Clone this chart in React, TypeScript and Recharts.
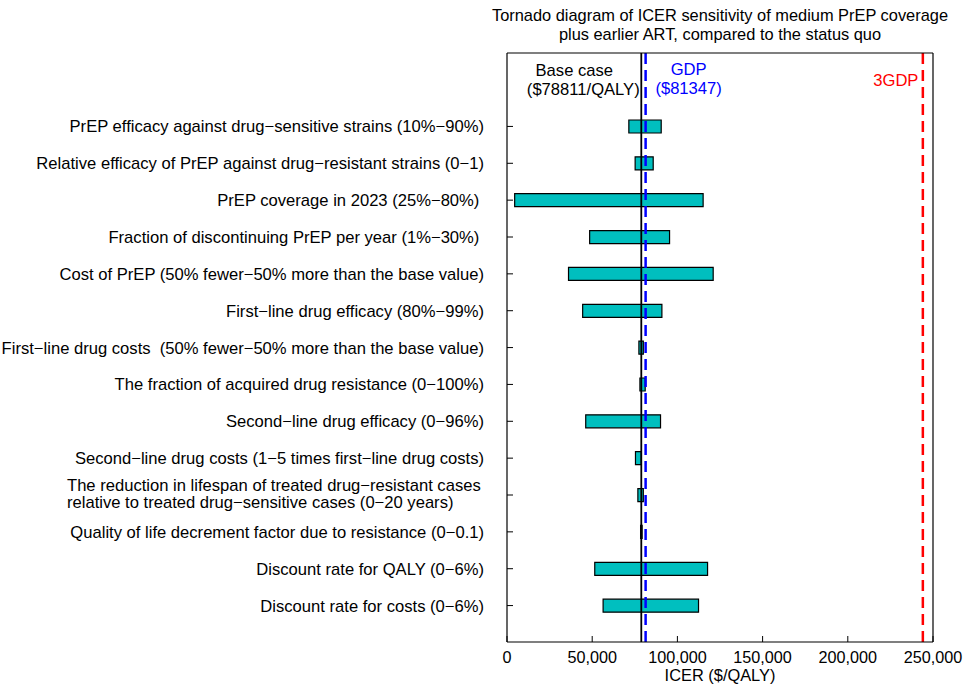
import React from "react";
import { BarChart, Bar, XAxis, YAxis, ReferenceLine } from "recharts";

const labels = [
  "PrEP efficacy against drug−sensitive strains (10%−90%)",
  "Relative efficacy of PrEP against drug−resistant strains (0−1)",
  "PrEP coverage in 2023 (25%−80%) ",
  "Fraction of discontinuing PrEP per year (1%−30%) ",
  "Cost of PrEP (50% fewer−50% more than the base value)",
  "First−line drug efficacy (80%−99%)",
  "First−line drug costs  (50% fewer−50% more than the base value)",
  "The fraction of acquired drug resistance (0−100%)",
  "Second−line drug efficacy (0−96%)",
  "Second−line drug costs (1−5 times first−line drug costs)",
  "The reduction in lifespan of treated drug−resistant cases\nrelative to treated drug−sensitive cases (0−20 years)",
  "Quality of life decrement factor due to resistance (0−0.1)",
  "Discount rate for QALY (0−6%)",
  "Discount rate for costs (0−6%)",
];

const lows = [71500, 75200, 4500, 48500, 36100, 44400, 77400, 78000, 46200, 75400, 76800, 78400, 51500, 56400];
const highs = [90500, 85800, 115100, 95400, 121000, 90900, 80000, 81100, 90100, 78800, 80000, 79300, 117700, 112400];

const xTicks = [0, 50000, 100000, 150000, 200000, 250000];

const baseCase = 78811;
const gdp = 81347;
const gdp3 = 244041;

const data = labels.map((name, i) => ({ name, range: [lows[i], highs[i]] }));

const FONT = "'Liberation Sans', Arial, Helvetica, sans-serif";
const LABEL_SIZE = 16.6;

const LeftTick = ({ x, y, payload }: any) => {
  const lines = String(payload.value).split("\n");
  if (lines.length > 1) {
    return (
      <g>
        <line x1={x + 23} x2={x + 29} y1={y} y2={y} stroke="#000" />
        <text x={x - 417} y={y} fontSize={LABEL_SIZE} fontFamily={FONT} fill="#000" textAnchor="start">
          {lines.map((l, i) => (
            <tspan key={i} x={x - 417} dy={i === 0 ? "-0.22em" : "1.03em"}>
              {l}
            </tspan>
          ))}
        </text>
      </g>
    );
  }
  return (
    <g>
      <line x1={x + 23} x2={x + 29} y1={y} y2={y} stroke="#000" />
      <text x={x} y={y} dy="0.36em" fontSize={LABEL_SIZE} fontFamily={FONT} fill="#000" textAnchor="end" style={{ whiteSpace: "pre" }}>
        {lines[0]}
      </text>
    </g>
  );
};

const BottomTick = ({ x, y, payload }: any) => (
  <g>
    <line x1={x} x2={x} y1={y - 9} y2={y - 15} stroke="#000" />
    <text x={x} y={y} dy="0.71em" fontSize={16.2} fontFamily={FONT} fill="#000" textAnchor="middle">
      {payload.value.toLocaleString("en-US")}
    </text>
  </g>
);

const lineLabel = (rows: { text: string; dx: number; dy: number; color: string }[]) => (props: any) => {
  const { x, y } = props.viewBox;
  return (
    <g>
      {rows.map((r) => (
        <text key={r.text} x={x + r.dx} y={y + r.dy} fontSize={LABEL_SIZE} fontFamily={FONT} fill={r.color} textAnchor="middle">
          {r.text}
        </text>
      ))}
    </g>
  );
};

export default function App() {
  return (
    <div style={{ position: "absolute", left: 0, top: 0, width: 964, height: 688, background: "#fff", fontFamily: FONT }}>
      <div
        style={{
          position: "absolute",
          left: 420,
          top: 6,
          width: 600,
          textAlign: "center",
          fontSize: 16.4,
          lineHeight: "19px",
          color: "#000",
        }}>
        Tornado diagram of ICER sensitivity of medium PrEP coverage
        <br />
        plus earlier ART, compared to the status quo
      </div>
      <BarChart
        width={964}
        height={688}
        data={data}
        layout="vertical"
        barSize={13}
        margin={{ top: 53, right: 31, bottom: 0, left: 0 }}>
        <XAxis
          type="number"
          domain={[0, 250000]}
          ticks={xTicks}
          height={46}
          tickSize={0}
          tickMargin={9}
          tickLine={false}
          axisLine={{ stroke: "#000", strokeWidth: 1.2 }}
          tick={<BottomTick />}
          interval={0}
          label={{ value: "ICER ($/QALY)", position: "insideBottom", offset: 7, fill: "#000", fontSize: 16.4, fontFamily: FONT }}
        />
        <XAxis
          xAxisId="top"
          type="number"
          orientation="top"
          mirror
          domain={[0, 250000]}
          ticks={xTicks}
          tickSize={6}
          tick={false}
          tickLine={{ stroke: "#000" }}
          axisLine={{ stroke: "#000", strokeWidth: 1.2 }}
        />
        <YAxis
          type="category"
          dataKey="name"
          width={507}
          padding={{ top: 55, bottom: 18 }}
          tickSize={0}
          tickMargin={23}
          tickLine={false}
          interval={0}
          axisLine={{ stroke: "#000", strokeWidth: 1.2 }}
          tick={<LeftTick />}
        />
        <YAxis
          yAxisId="right"
          type="category"
          dataKey="name"
          orientation="right"
          mirror
          padding={{ top: 55, bottom: 18 }}
          interval={0}
          tickSize={6}
          tick={false}
          tickLine={{ stroke: "#000" }}
          axisLine={{ stroke: "#000", strokeWidth: 1.2 }}
        />
        <Bar dataKey="range" fill="#00BFBF" stroke="#000" strokeWidth={1.2} isAnimationActive={false} />
        <ReferenceLine
          x={baseCase}
          stroke="#000"
          strokeWidth={1.8}
          label={lineLabel([
            { text: "Base case", dx: -67, dy: 23, color: "#000" },
            { text: "($78811/QALY)", dx: -58, dy: 42, color: "#000" },
          ])}
        />
        <ReferenceLine
          x={gdp}
          stroke="#0000FF"
          strokeWidth={2.5}
          strokeDasharray="11 6"
          label={lineLabel([
            { text: "GDP", dx: 43, dy: 22, color: "#0000FF" },
            { text: "($81347)", dx: 43, dy: 41, color: "#0000FF" },
          ])}
        />
        <ReferenceLine
          x={gdp3}
          stroke="#FF0000"
          strokeWidth={2.5}
          strokeDasharray="11 6"
          label={lineLabel([{ text: "3GDP", dx: -27, dy: 33, color: "#FF0000" }])}
        />
      </BarChart>
    </div>
  );
}
